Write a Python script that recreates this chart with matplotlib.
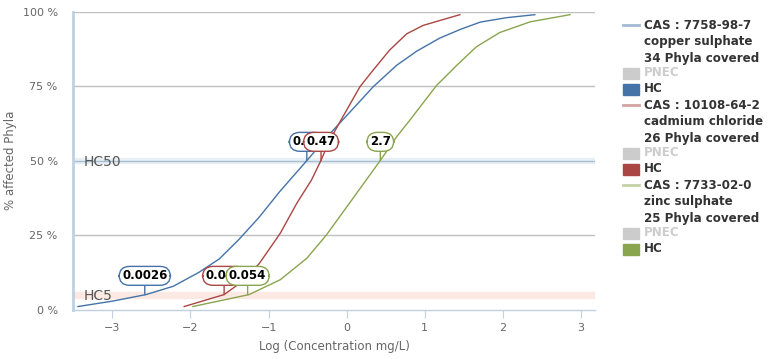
import matplotlib.pyplot as plt
from matplotlib.lines import Line2D
from matplotlib.patches import Rectangle

# curves: log10(concentration mg/L) vs % affected phyla
cu_x = [-3.44, -3.0, -2.57, -2.22, -1.89, -1.63, -1.38, -1.12, -0.86, -0.51, -0.18, 0.12, 0.34, 0.64,
        0.90, 1.19, 1.45, 1.71, 2.05, 2.41]
cu_y = [1.0, 2.8, 5.0, 7.8, 12.5, 17.0, 23.5, 31.0, 39.5, 50.0, 60.0, 68.5, 74.8, 82.0,
        86.8, 91.1, 94.0, 96.5, 98.0, 99.0]

cd_x = [-2.08, -1.57, -1.33, -1.12, -0.85, -0.64, -0.45, -0.33, -0.22, -0.06, 0.17, 0.34, 0.55, 0.77,
        0.98, 1.24, 1.45]
cd_y = [1.0, 5.0, 9.5, 15.4, 25.6, 35.6, 43.5, 50.0, 56.7, 64.2, 74.8, 80.4, 87.1, 92.6,
        95.4, 97.4, 99.0]

zn_x = [-1.97, -1.25, -0.85, -0.51, -0.26, 0.0, 0.43, 0.64, 0.81, 1.15, 1.41, 1.66, 1.96, 2.35, 2.86]
zn_y = [1.0, 5.0, 10.0, 17.2, 25.0, 34.4, 50.0, 58.0, 63.6, 75.2, 82.0, 88.2, 93.0, 96.6, 99.0]

# hazardous concentrations (log10) and their labels
hc5_x = [-2.585, -1.569, -1.268]
hc5_lbl = ["0.0026", "0.027", "0.054"]
hc50_x = [-0.51, -0.328, 0.431]
hc50_lbl = ["0.31", "0.47", "2.7"]

names = ["CAS : 7758-98-7\ncopper sulphate\n34 Phyla covered",
         "CAS : 10108-64-2\ncadmium chloride\n26 Phyla covered",
         "CAS : 7733-02-0\nzinc sulphate\n25 Phyla covered"]
colors = ["#4572A7", "#AA4643", "#89A54E"]
light = ["#a2b9d3", "#d4a2a1", "#c4d2a6"]

xticks = [-3, -2, -1, 0, 1, 2, 3]
yticks = [0, 25, 50, 75, 100]

fig = plt.figure(figsize=(7.79, 3.59), dpi=100)
ax = fig.add_axes([73 / 779, 49.5 / 359, 522 / 779, 297.8 / 359])
ax.set_xlim(-3.504, 3.18)
ax.set_ylim(0, 100)

# bands
ax.axhspan(49.2, 50.8, color="#e8f0f6", zorder=0)
ax.axhline(50, color="#a8bdd0", lw=1, zorder=1)
ax.axhspan(4, 6, color="#fde9e4", zorder=0)
for y in [25, 75, 100]:
    ax.axhline(y, color="#c0c0c0", lw=1, zorder=0.5)
ax.text(-3.37, 49.6, "HC50", fontsize=10, color="#555555", va="center", zorder=2)
ax.text(-3.37, 4.6, "HC5", fontsize=10, color="#555555", va="center", zorder=2)

for i, (xs, ys) in enumerate([(cu_x, cu_y), (cd_x, cd_y), (zn_x, zn_y)]):
    ax.plot(xs, ys, color=colors[i], lw=1, zorder=3)

for i in range(3):
    for xv, yv, ty, lbl in [(hc5_x[i], 5, 11.3, hc5_lbl[i]), (hc50_x[i], 50, 56.3, hc50_lbl[i])]:
        ax.annotate(lbl, xy=(xv, yv), xytext=(xv, ty), ha="center", va="center",
                    fontsize=8.5, fontweight="bold", color="black", zorder=5 + i,
                    bbox=dict(boxstyle="round,pad=0.25,rounding_size=0.88", fc="white",
                              ec=colors[i], lw=1),
                    arrowprops=dict(arrowstyle="-", color=colors[i], lw=1, shrinkA=0, shrinkB=0))

for s in ["top", "right"]:
    ax.spines[s].set_visible(False)
ax.spines["left"].set_color("#c0d0e0")
ax.spines["left"].set_linewidth(2)
ax.spines["bottom"].set_color("#c0d0e0")
ax.spines["bottom"].set_linewidth(1)
ax.set_xticks(xticks)
ax.set_yticks(yticks)
ax.set_yticklabels([f"{t} %" for t in yticks])
ax.tick_params(axis="x", colors="#c0d0e0", length=6, labelcolor="#666666", labelsize=8, pad=4)
ax.tick_params(axis="y", length=0, labelcolor="#666666", labelsize=8, pad=11)
ax.set_xlabel("Log (Concentration mg/L)", fontsize=8.5, color="#666666", labelpad=5)
ax.set_ylabel("% affected Phyla", fontsize=8.5, color="#666666")
ax.yaxis.set_label_coords(-0.108, 0.5)

# legend drawn by hand
W, H = 779, 359
ytop = 25
step = 16
row = 0
for i in range(3):
    yl = H - (ytop + row * step)
    fig.add_artist(Line2D([623 / W, 639 / W], [yl / H, yl / H], color=light[i], lw=2))
    fig.text(644 / W, (yl + 6) / H, names[i], fontsize=8.6, fontweight="bold", color="#333333",
             va="top", linespacing=1.33)
    row += 3
    for lab, fc, tc in [("PNEC", "#cccccc", "#cccccc"), ("HC", colors[i], "#333333")]:
        yl = H - (ytop + row * step)
        fig.add_artist(Rectangle((623 / W, (yl - 5.5) / H), 16 / W, 11 / H, color=fc,
                                 transform=fig.transFigure))
        fig.text(644 / W, yl / H, lab, fontsize=8.6, fontweight="bold", color=tc, va="center")
        row += 1

fig.savefig("out.png", dpi=100)
